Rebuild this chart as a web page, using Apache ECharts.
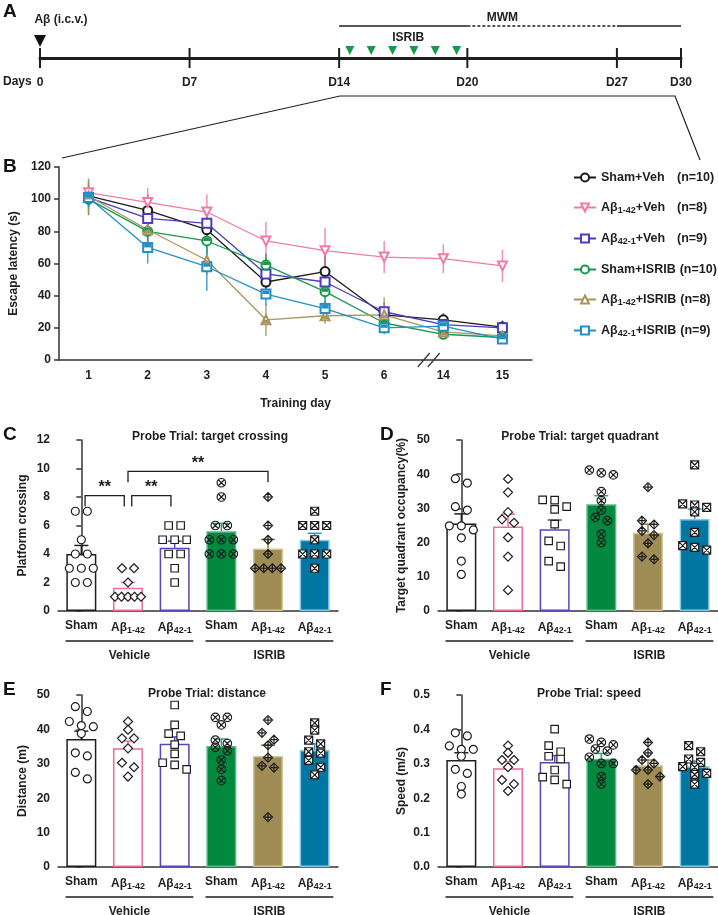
<!DOCTYPE html>
<html>
<head>
<meta charset="utf-8">
<script src="https://cdn.jsdelivr.net/npm/echarts@6.0.0/dist/echarts.min.js"></script>
<style>
  html, body { margin: 0; padding: 0; background: #fff; }
  #main { width: 718px; height: 915px; }
</style>
</head>
<body>
<div id="main"></div>
<script>
// ---- panel A: timeline ----
var timelineDays = [0, 7, 14, 20, 27, 30];
var timelineLabels = ['0', 'D7', 'D14', 'D20', 'D27', 'D30'];
var isribDays = [14.5, 15.5, 16.5, 17.5, 18.5, 19.5];
var mwmFrom = [14, 20, 27];
var mwmTo = [20, 27, 30];
var mwmDashed = [false, true, false];

// ---- panel B: escape latency ----
var groups = ['Sham+Veh', 'Aβ1-42+Veh', 'Aβ42-1+Veh', 'Sham+ISRIB', 'Aβ1-42+ISRIB', 'Aβ42-1+ISRIB'];
var groupN = [10, 8, 9, 10, 8, 9];
var trainingDays = ['1', '2', '3', '4', '5', '6', '14', '15'];
var latShamVeh    = [102, 93, 81, 48.5, 55, 28, 25, 20.5];
var latAb142Veh   = [104, 98, 92, 74, 68, 64, 63, 58.5];
var latAb421Veh   = [101, 88, 85, 53.5, 48.5, 30, 22, 20];
var latShamIsrib  = [100, 80, 74, 59, 42.5, 23, 16, 14];
var latAb142Isrib = [102, 81, 62, 25, 27.5, 28, 17.5, 15];
var latAb421Isrib = [101, 70, 58, 41, 32, 20, 21, 13];
var semShamVeh    = [4, 10, 9, 8, 12, 5, 4, 4];
var semAb142Veh   = [8, 9, 11, 12, 14, 10, 9, 10];
var semAb421Veh   = [5, 6, 8, 9, 10, 6, 4, 4];
var semShamIsrib  = [10, 6, 8, 7, 7, 5, 3, 3];
var semAb142Isrib = [11, 8, 9, 10, 5, 11, 4, 3];
var semAb421Isrib = [6, 10, 15, 7, 5, 4, 4, 3];

// ---- panels C-F: probe trial ----
var barCats = ['Sham', 'Aβ1-42', 'Aβ42-1', 'Sham', 'Aβ1-42', 'Aβ42-1'];
var treatNames = ['Vehicle', 'ISRIB'];
var treatFrom = [0, 3];
var treatTo = [2, 5];

var crossMean = [4.0, 1.63, 4.44, 5.6, 4.38, 5.0];
var crossSem  = [0.6, 0.38, 0.46, 0.55, 0.65, 0.45];
var crossShamVeh    = [7, 7, 5, 4, 4, 3, 3, 3, 2, 2];
var crossAb142Veh   = [3, 3, 2, 1, 1, 1, 1, 1];
var crossAb421Veh   = [6, 6, 5, 5, 5, 4, 4, 3, 2];
var crossShamIsrib  = [9, 8, 6, 6, 5, 5, 5, 4, 4, 4];
var crossAb142Isrib = [8, 6, 5, 4, 3, 3, 3, 3];
var crossAb421Isrib = [7, 6, 6, 6, 5, 4, 4, 4, 3];
var sigFrom = [0, 1, 1];
var sigTo = [1, 2, 4];
var sigLevel = [8.1, 8.1, 9.8];
var sigText = ['**', '**', '**'];

var quadMean = [25.6, 24.7, 23.9, 31.2, 22.9, 26.9];
var quadSem  = [2.8, 3.6, 2.7, 2.5, 2.5, 2.9];
var quadShamVeh    = [38.7, 37.4, 30.5, 29.5, 24.9, 24.9, 23.7, 21.4, 14.6, 10.7];
var quadAb142Veh   = [38.6, 34.7, 28.9, 26.8, 25.8, 21.5, 15.9, 6.1];
var quadAb421Veh   = [32.5, 32.4, 30.5, 29.7, 25.4, 20.5, 19.0, 14.6, 13.0];
var quadShamIsrib  = [41.2, 40.4, 39.8, 34.9, 32.3, 29.5, 27.4, 26.4, 22.5, 20.0];
var quadAb142Isrib = [36.2, 26.4, 25.3, 23.4, 22.2, 19.8, 15.9, 15.1];
var quadAb421Isrib = [42.7, 31.3, 31.0, 30.3, 29.0, 23.0, 19.1, 18.6, 17.8];

var distMean = [37.2, 34.5, 35.8, 35.2, 32.3, 34.0];
var distSem  = [2.3, 2.1, 2.0, 2.0, 3.1, 1.8];
var distShamVeh    = [46.6, 45.2, 42.3, 41.1, 40.8, 38.8, 33.2, 32.3, 27.5, 25.6];
var distAb142Veh   = [42.3, 39.9, 37.4, 37.4, 34.5, 30.3, 29.0, 26.3];
var distAb421Veh   = [47.1, 41.3, 38.8, 38.1, 35.6, 32.9, 30.3, 29.7, 28.4];
var distShamIsrib  = [43.5, 43.5, 41.3, 36.9, 35.9, 34.8, 33.8, 31.1, 28.4, 25.1];
var distAb142Isrib = [42.7, 39.0, 37.0, 35.4, 31.8, 29.4, 28.9, 14.5];
var distAb421Isrib = [41.9, 39.8, 36.9, 35.8, 33.5, 33.1, 31.0, 29.0, 26.8];

var speedMean = [0.311, 0.287, 0.305, 0.315, 0.296, 0.293];
var speedSem  = [0.021, 0.019, 0.019, 0.015, 0.015, 0.015];
var speedShamVeh    = [0.390, 0.381, 0.352, 0.342, 0.342, 0.322, 0.284, 0.272, 0.234, 0.212];
var speedAb142Veh   = [0.353, 0.332, 0.311, 0.311, 0.290, 0.253, 0.241, 0.221];
var speedAb421Veh   = [0.401, 0.353, 0.335, 0.322, 0.314, 0.282, 0.261, 0.253, 0.241];
var speedShamIsrib  = [0.372, 0.362, 0.355, 0.343, 0.337, 0.319, 0.301, 0.301, 0.263, 0.241];
var speedAb142Isrib = [0.362, 0.332, 0.311, 0.301, 0.282, 0.282, 0.263, 0.241];
var speedAb421Isrib = [0.353, 0.335, 0.314, 0.304, 0.292, 0.290, 0.272, 0.269, 0.241];

// styles
var FONT = 'Liberation Sans';
var INK = '#1e1e1e';
var lineColors = ['#1a1a1a', '#f27aa8', '#4b3cc0', '#17984c', '#a89560', '#2290c8'];
var barFill = ['#ffffff', '#ffffff', '#ffffff', '#03893f', '#a08d55', '#0076a3'];
var barEdge = ['#1e1e1e', '#f06b9f', '#5645c0', '#5cb885', '#cfc493', '#86c9e6'];
var errColor = ['#1e1e1e', '#f06b9f', '#5645c0', '#2fa37a', '#8b7a48', '#2a95c8'];
var dotSymbol = ['circle', 'diamond', 'rect',
  'path://M10 0A10 10 0 1 1 10 20A10 10 0 1 1 10 0ZM3 3L17 17M17 3L3 17',
  'path://M10 0L20 10L10 20L0 10ZM10 3L10 17M3 10L17 10',
  'path://M0 0L20 0L20 20L0 20ZM0 0L20 20M20 0L0 20'];
var dotSize = [8, 9, 7.5, 8.5, 9, 8];
var dotFill = ['#fff', '#fff', '#fff', 'rgba(0,0,0,0)', 'rgba(0,0,0,0)', '#fff'];

var subStyle = { fontSize: 9, fontWeight: 'bold', fontFamily: FONT, color: INK, padding: [6, 0, 0, 0] };

function subRich(s) {
  var m = /^Aβ([\d-]+)(.*)$/.exec(s);
  return m ? 'Aβ{s|' + m[1] + '}' + m[2] : s;
}

var ctx = document.createElement('canvas').getContext('2d');
function textW(t, size) {
  ctx.font = 'bold ' + size + 'px ' + FONT;
  return ctx.measureText(t).width;
}

// spread points that sit on the same height, like a column scatter
function swarm(vals, pxPerUnit, band) {
  var idx = vals.map(function (v, i) { return i; })
    .sort(function (a, b) { return vals[b] - vals[a]; });
  var off = [];
  var k = 0;
  while (k < idx.length) {
    var row = [idx[k]], j = k + 1;
    while (j < idx.length && (vals[idx[k]] - vals[idx[j]]) * pxPerUnit < 7) { row.push(idx[j]); j++; }
    var step = row.length > 1 ? Math.min(12, 26 / (row.length - 1)) : 0;
    row.forEach(function (p, r) { off[p] = (r - (row.length - 1) / 2) * step / band; });
    k = j;
  }
  return off;
}

var option = {
  backgroundColor: '#fff',
  animation: false,
  textStyle: { fontFamily: FONT },
  grid: [], xAxis: [], yAxis: [], series: [], title: [], graphic: []
};

function axisText(size) {
  return { color: INK, fontFamily: FONT, fontWeight: 'bold', fontSize: size };
}

// ---------- A ----------
option.grid.push({ left: 40, top: 18, width: 641, height: 80 });
option.xAxis.push({
  type: 'value', gridIndex: 0, min: 0, max: 30,
  axisLine: { show: true, onZero: true, lineStyle: { color: INK, width: 3 } },
  axisTick: { show: false }, axisLabel: { show: false }, splitLine: { show: false }
});
option.yAxis.push({ type: 'value', gridIndex: 0, min: -4, max: 4, show: false });

option.series.push({
  type: 'custom', xAxisIndex: 0, yAxisIndex: 0, silent: true,
  data: timelineDays.map(function (d, i) { return [d, i]; }),
  renderItem: function (params, api) {
    var p = api.coord([api.value(0), 0]);
    return { type: 'group', children: [
      { type: 'line', shape: { x1: p[0], y1: p[1] - 10, x2: p[0], y2: p[1] + 10 }, style: { stroke: INK, lineWidth: 2 } },
      { type: 'text', style: { text: timelineLabels[params.dataIndex], x: p[0], y: p[1] + 25, align: 'center', verticalAlign: 'middle', font: 'bold 12px ' + FONT, fill: INK } }
    ] };
  }
});
option.series.push({
  type: 'custom', xAxisIndex: 0, yAxisIndex: 0, silent: true,
  data: [[0]],
  renderItem: function (params, api) {
    var p = api.coord([api.value(0), 0]);
    return { type: 'group', children: [
      { type: 'polygon', shape: { points: [[p[0] - 6, p[1] - 23], [p[0] + 6, p[1] - 23], [p[0], p[1] - 11]] }, style: { fill: '#111' } },
      { type: 'text', style: { text: 'Aβ (i.c.v.)', x: p[0] + 21, y: p[1] - 38, align: 'center', verticalAlign: 'middle', font: 'bold 12px ' + FONT, fill: INK } }
    ] };
  }
});
option.series.push({
  type: 'custom', xAxisIndex: 0, yAxisIndex: 0, silent: true,
  data: isribDays.map(function (d) { return [d]; }),
  renderItem: function (params, api) {
    var p = api.coord([api.value(0), 0]);
    var kids = [{ type: 'polygon', shape: { points: [[p[0] - 4.5, p[1] - 12], [p[0] + 4.5, p[1] - 12], [p[0], p[1] - 3]] }, style: { fill: '#19994a' } }];
    if (params.dataIndex === 0) {
      var mid = api.coord([(isribDays[0] + isribDays[isribDays.length - 1]) / 2, 0]);
      kids.push({ type: 'text', style: { text: 'ISRIB', x: mid[0] + 5, y: p[1] - 20, align: 'center', verticalAlign: 'middle', font: 'bold 12px ' + FONT, fill: INK } });
    }
    return { type: 'group', children: kids };
  }
});
option.series.push({
  type: 'custom', xAxisIndex: 0, yAxisIndex: 0, silent: true,
  data: mwmFrom.map(function (f, i) { return [f, mwmTo[i]]; }),
  renderItem: function (params, api) {
    var a = api.coord([api.value(0), 0]), b = api.coord([api.value(1), 0]);
    var kids = [{ type: 'line', shape: { x1: a[0], y1: a[1] - 32, x2: b[0], y2: b[1] - 32 },
      style: { stroke: INK, lineWidth: 1.3, lineDash: mwmDashed[params.dataIndex] ? [3, 2] : null } }];
    if (mwmDashed[params.dataIndex]) {
      kids.push({ type: 'text', style: { text: 'MWM', x: a[0] + 35, y: a[1] - 40, align: 'center', verticalAlign: 'middle', font: 'bold 12px ' + FONT, fill: INK } });
    }
    return { type: 'group', children: kids };
  }
});

// ---------- B ----------
option.grid.push({ left: 59, top: 167, width: 473, height: 193 });
option.xAxis.push({
  type: 'category', gridIndex: 1, data: trainingDays, boundaryGap: true,
  axisLine: { lineStyle: { color: '#333', width: 1.5 } }, axisTick: { show: false },
  axisLabel: Object.assign({ margin: 10 }, axisText(12)),
  name: 'Training day', nameLocation: 'middle', nameGap: 38, nameTextStyle: axisText(12)
});
option.yAxis.push({
  type: 'value', gridIndex: 1, min: 0, max: 120, interval: 20,
  axisLine: { show: true, lineStyle: { color: '#333', width: 1.5 } },
  axisTick: { show: true, length: 5, lineStyle: { color: '#333', width: 1.5 } },
  axisLabel: Object.assign({ margin: 8 }, axisText(12)), splitLine: { show: false },
  name: 'Escape latency (s)', nameLocation: 'middle', nameGap: 33, nameRotate: 90, nameTextStyle: axisText(12)
});

var latMeans = [latShamVeh, latAb142Veh, latAb421Veh, latShamIsrib, latAb142Isrib, latAb421Isrib];
var latSems = [semShamVeh, semAb142Veh, semAb421Veh, semShamIsrib, semAb142Isrib, semAb421Isrib];
var lineSymbols = ['emptyCircle', 'emptyTriangle', 'emptyRect', 'emptyCircle', 'emptyTriangle', 'emptyRect'];

latMeans.forEach(function (vals, g) {
  var c = lineColors[g];
  option.series.push({
    type: 'custom', xAxisIndex: 1, yAxisIndex: 1, silent: true, z: 2,
    data: vals.map(function (m, j) { return [j, m, latSems[g][j]]; }),
    renderItem: function (params, api) {
      var a = api.coord([api.value(0), api.value(1) - api.value(2)]);
      var b = api.coord([api.value(0), api.value(1) + api.value(2)]);
      return { type: 'line', shape: { x1: a[0], y1: a[1], x2: b[0], y2: b[1] }, style: { stroke: c, lineWidth: 1.5, opacity: 0.85 } };
    }
  });
});
latMeans.forEach(function (vals, g) {
  option.series.push({
    name: groups[g], type: 'line', xAxisIndex: 1, yAxisIndex: 1, z: 3, silent: true,
    data: vals, symbol: lineSymbols[g], symbolSize: 9, symbolRotate: g === 1 ? 180 : 0,
    lineStyle: { color: lineColors[g], width: 1.3 },
    itemStyle: { color: lineColors[g], borderWidth: 1.3 }
  });
});
// half-filled markers of the ISRIB groups
var halfShape = [null, null, null,
  { symbol: 'path://M0 10A10 10 0 0 1 20 10Z', size: [7, 3.5], offset: [0, -1.75] },
  { symbol: 'path://M5 0L15 0L20 10L0 10Z', size: [7, 3.5], offset: [0, 1.6] },
  { symbol: 'path://M0 0L20 0L20 10L0 10Z', size: [7, 3.5], offset: [0, -1.75] }];
latMeans.forEach(function (vals, g) {
  if (!halfShape[g]) return;
  option.series.push({
    type: 'scatter', xAxisIndex: 1, yAxisIndex: 1, z: 4, silent: true,
    data: vals, symbol: halfShape[g].symbol, symbolSize: halfShape[g].size, symbolOffset: halfShape[g].offset,
    itemStyle: { color: lineColors[g], opacity: 1 }
  });
});

// legend with subscripts and aligned (n=..)
var legendRich = { s: { fontSize: 9, fontWeight: 'bold', fontFamily: FONT, color: INK, padding: [6, 0, 0, 0] } };
groups.forEach(function (name, i) {
  var m = /^Aβ([\d-]+)(.*)$/.exec(name);
  var w = m ? textW('Aβ', 12.5) + textW(m[1], 9) + textW(m[2], 12.5) : textW(name, 12.5);
  legendRich['g' + i] = { width: Math.max(4, 76 - w) };
});
option.legend = {
  data: groups, orient: 'vertical', left: 568, top: 166, selectedMode: false,
  itemWidth: 22, itemHeight: 10, itemGap: 17,
  textStyle: { color: INK, fontFamily: FONT, fontWeight: 'bold', fontSize: 12.5, rich: legendRich },
  formatter: function (name) {
    var i = groups.indexOf(name);
    return subRich(name) + '{g' + i + '| }' + '(n=' + groupN[i] + ')';
  }
};

// axis break marks between day 6 and day 14
option.series.push({
  type: 'custom', xAxisIndex: 1, yAxisIndex: 1, silent: true, clip: false, z: 5,
  data: [[5, 6]],
  renderItem: function (params, api) {
    var a = api.coord([api.value(0), 0]), b = api.coord([api.value(1), 0]);
    var cx = (a[0] + b[0]) / 2 + 15, y = a[1];
    return { type: 'group', children: [-5, 5].map(function (dx) {
      return { type: 'line', shape: { x1: cx + dx - 6, y1: y + 7, x2: cx + dx + 6, y2: y - 7 }, style: { stroke: '#333', lineWidth: 1.2 } };
    }) };
  }
});

// ---------- C-F ----------
function addBarPanel(cfg) {
  var gi = option.grid.length;
  option.grid.push({ left: cfg.box[0], top: cfg.box[1], width: cfg.box[2], height: cfg.box[3] });
  var xc = option.xAxis.length;
  option.xAxis.push({
    type: 'category', gridIndex: gi, data: barCats,
    axisLine: { lineStyle: { color: '#333', width: 1.5 } }, axisTick: { show: false },
    axisLabel: Object.assign({ margin: 9, interval: 0, formatter: subRich, rich: { s: subStyle } }, axisText(12))
  });
  var xv = option.xAxis.length;
  option.xAxis.push({ type: 'value', gridIndex: gi, min: -0.5, max: 5.5, show: false });
  var yi = option.yAxis.length;
  option.yAxis.push({
    type: 'value', gridIndex: gi, min: 0, max: cfg.max, interval: cfg.interval,
    axisLine: { show: true, lineStyle: { color: '#333', width: 1.5 } },
    axisTick: { show: true, length: 5, lineStyle: { color: '#333', width: 1.5 } },
    axisLabel: Object.assign({ margin: 8, formatter: cfg.fmt }, axisText(12)), splitLine: { show: false },
    name: cfg.yName, nameLocation: 'middle', nameGap: cfg.nameGap, nameRotate: 90, nameTextStyle: axisText(12)
  });
  option.title.push({
    text: cfg.title, left: cfg.titleX, top: cfg.titleY, textAlign: 'center',
    textStyle: axisText(12)
  });
  option.series.push({
    type: 'bar', xAxisIndex: xc, yAxisIndex: yi, barWidth: 30, z: 1, silent: true,
    data: cfg.means.map(function (m, i) {
      return { value: m, itemStyle: { color: barFill[i], borderColor: barEdge[i], borderWidth: 1.5 } };
    })
  });
  option.series.push({
    type: 'custom', xAxisIndex: xc, yAxisIndex: yi, z: 3, silent: true,
    data: cfg.means.map(function (m, i) { return [i, m, cfg.sems[i]]; }),
    renderItem: function (params, api) {
      var p0 = api.coord([api.value(0), api.value(1)]);
      var p1 = api.coord([api.value(0), api.value(1) + api.value(2)]);
      var c = errColor[params.dataIndex];
      return { type: 'group', children: [
        { type: 'line', shape: { x1: p0[0], y1: p0[1], x2: p1[0], y2: p1[1] }, style: { stroke: c, lineWidth: 1.5 } },
        { type: 'line', shape: { x1: p1[0] - 7, y1: p1[1], x2: p1[0] + 7, y2: p1[1] }, style: { stroke: c, lineWidth: 1.5 } }
      ] };
    }
  });
  var pxPerUnit = cfg.box[3] / cfg.max, band = cfg.box[2] / 6;
  cfg.points.forEach(function (vals, g) {
    var off = swarm(vals, pxPerUnit, band);
    option.series.push({
      type: 'scatter', xAxisIndex: xv, yAxisIndex: yi, z: 4, silent: true,
      symbol: dotSymbol[g], symbolSize: dotSize[g],
      itemStyle: { color: dotFill[g], borderColor: INK, borderWidth: 1.2, opacity: 1 },
      data: vals.map(function (v, k) { return [g + off[k], v]; })
    });
  });
  option.series.push({
    type: 'custom', xAxisIndex: xc, yAxisIndex: yi, clip: false, silent: true,
    data: treatNames.map(function (n, i) { return [treatFrom[i], treatTo[i]]; }),
    renderItem: function (params, api) {
      var a = api.coord([api.value(0), 0]), b = api.coord([api.value(1), 0]);
      var bw = api.size([1, 0])[0];
      var x1 = a[0] - 0.34 * bw, x2 = b[0] + 0.4 * bw, y = a[1];
      return { type: 'group', children: [
        { type: 'line', shape: { x1: x1, y1: y + 30, x2: x2, y2: y + 30 }, style: { stroke: '#555', lineWidth: 2 } },
        { type: 'text', style: { text: treatNames[params.dataIndex], x: (x1 + x2) / 2, y: y + 45, align: 'center', verticalAlign: 'middle', font: 'bold 12px ' + FONT, fill: INK } }
      ] };
    }
  });
  if (cfg.sig) {
    option.series.push({
      type: 'custom', xAxisIndex: xc, yAxisIndex: yi, z: 5, silent: true,
      data: sigFrom.map(function (f, i) { return [f, sigTo[i], sigLevel[i]]; }),
      renderItem: function (params, api) {
        var a = api.coord([api.value(0), api.value(2)]), b = api.coord([api.value(1), api.value(2)]);
        var bw = api.size([1, 0])[0];
        var ins = api.value(1) - api.value(0) === 1 ? 0.08 * bw : 0;
        var x1 = a[0] + ins, x2 = b[0] - ins, y = a[1];
        return { type: 'group', children: [
          { type: 'polyline', shape: { points: [[x1, y + 11], [x1, y], [x2, y], [x2, y + 11]] }, style: { stroke: INK, lineWidth: 1.3, fill: null } },
          { type: 'text', style: { text: sigText[params.dataIndex], x: (x1 + x2) / 2, y: y - 8, align: 'center', verticalAlign: 'middle', font: 'bold 16px ' + FONT, fill: INK } }
        ] };
      }
    });
  }
}

addBarPanel({
  box: [58, 440, 280, 171], max: 12, interval: 2, yName: 'Platform crossing', nameGap: 29,
  title: 'Probe Trial: target crossing', titleX: 205, titleY: 426,
  means: crossMean, sems: crossSem, sig: true,
  points: [crossShamVeh, crossAb142Veh, crossAb421Veh, crossShamIsrib, crossAb142Isrib, crossAb421Isrib]
});
addBarPanel({
  box: [438, 440, 280, 171], max: 50, interval: 10, yName: 'Target quadrant occupancy(%)', nameGap: 30,
  title: 'Probe Trial: target quadrant', titleX: 575, titleY: 426,
  means: quadMean, sems: quadSem,
  points: [quadShamVeh, quadAb142Veh, quadAb421Veh, quadShamIsrib, quadAb142Isrib, quadAb421Isrib]
});
addBarPanel({
  box: [58, 695, 280, 172], max: 50, interval: 10, yName: 'Distance (m)', nameGap: 29,
  title: 'Probe Trial: distance', titleX: 202, titleY: 683,
  means: distMean, sems: distSem,
  points: [distShamVeh, distAb142Veh, distAb421Veh, distShamIsrib, distAb142Isrib, distAb421Isrib]
});
addBarPanel({
  box: [438, 695, 280, 172], max: 0.5, interval: 0.1, yName: 'Speed (m/s)', nameGap: 30,
  fmt: function (v) { return v.toFixed(1); },
  title: 'Probe Trial: speed', titleX: 584, titleY: 683,
  means: speedMean, sems: speedSem,
  points: [speedShamVeh, speedAb142Veh, speedAb421Veh, speedShamIsrib, speedAb142Isrib, speedAb421Isrib]
});

// panel letters, day caption and the zoom outline from A to B
var letters = [['A', 3, 2], ['B', 3, 157], ['C', 3, 425], ['D', 380, 425], ['E', 3, 680], ['F', 380, 680]];
letters.forEach(function (l) {
  option.graphic.push({ type: 'text', left: l[1], top: l[2], silent: true, style: { text: l[0], font: 'bold 19px ' + FONT, fill: '#111' } });
});
option.graphic.push({ type: 'text', left: 3, top: 76, silent: true, style: { text: 'Days', font: 'bold 12px ' + FONT, fill: INK } });
option.graphic.push({ type: 'polyline', silent: true, shape: { points: [[62, 158], [340, 96], [675, 96], [700, 160]] }, style: { stroke: '#222', lineWidth: 1.2, fill: null } });

var chart = echarts.init(document.getElementById('main'));
chart.setOption(option);
</script>
</body>
</html>
